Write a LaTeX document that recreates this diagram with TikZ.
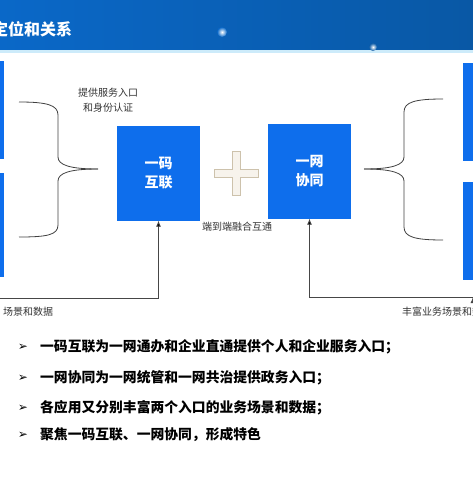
\documentclass[tikz,border=0pt]{standalone}
\usepackage{fontspec}
\setmainfont{Noto Sans CJK SC}
\newfontfamily\sym{DejaVu Sans}
\usetikzlibrary{arrows.meta,positioning,calc}
\definecolor{boxblue}{RGB}{14,110,236}
\definecolor{bandl}{RGB}{10,104,200}
\definecolor{bandr}{RGB}{9,88,165}
\definecolor{bandline}{RGB}{205,235,250}
\definecolor{plusline}{RGB}{205,194,172}
\definecolor{plusfill}{RGB}{247,243,236}
\definecolor{wire}{RGB}{70,70,70}

\begin{document}
\begin{tikzpicture}[x=1pt,y=-1pt,
  blk/.style={fill=boxblue,minimum width=83pt,minimum height=95pt,inner sep=0pt,
    text=white,font=\fontsize{14}{19}\selectfont\bfseries,align=center},
  side/.style={fill=boxblue,minimum width=60pt,minimum height=98pt,inner sep=0pt},
  lbl/.style={font=\fontsize{10}{15}\selectfont,align=center,text=black!80,inner sep=0pt},
  item/.style={anchor=west,font=\fontsize{13.8}{16}\selectfont\bfseries,inner sep=0pt},
  brace/.style={draw=black!75,line width=0.8pt}]
\useasboundingbox (0,0) rectangle (473,477);

% header band
\fill[left color=bandl,right color=bandr] (0,0) rectangle (473,50);
\fill[bandline] (0,50) rectangle (473,53);
\shade[inner color=white,outer color=bandl] (222,32) circle (5);
\shade[inner color=white,outer color=bandr] (373,47) circle (4);
\node[anchor=west,inner sep=0pt,text=white,font=\fontsize{16}{16}\selectfont\bfseries] (H) at (-8,29) {定位和关系};

% boxes
\node[side] (L1) at (-26,110) {};
\node[side,minimum height=104pt] (L2) at (-26,225) {};
\node[side] (R1) at (493,112) {};
\node[side] (R2) at (493,231) {};
\node[blk] (A) at (158.5,173) {一码\\互联};
\node[blk] (B) at (309.5,171) {一网\\协同};

% plus
\draw[plusline,fill=plusfill,line width=1pt] (232,151) -- (240,151) -- (240,169) -- (258,169)
  -- (258,177) -- (240,177) -- (240,195) -- (232,195) -- (232,177) -- (214,177)
  -- (214,169) -- (232,169) -- cycle;

% labels
\node[lbl] (C) at (108,100) {提供服务入口\\和身份认证};
\node[lbl] (D) at (237,227) {端到端融合互通};
\node[lbl,anchor=west] (E) at (3,312) {场景和数据};
\node[lbl,anchor=west] (F) at (402,312) {丰富业务场景和数据};

% braces
\coordinate (P) at (98,169);
\coordinate (Q) at (364,169);
\draw[brace] (P) .. controls +(-28,0) and +(0,8) .. ++(-40,-12) -- ++(0,-42)
  .. controls +(0,-10) and +(28,0) .. ++(-39,-13);
\draw[brace] (P) .. controls +(-28,0) and +(0,-8) .. ++(-40,12) -- ++(0,44)
  .. controls +(0,10) and +(28,0) .. ++(-39,12);
\draw[brace] (Q) .. controls +(28,0) and +(0,8) .. ++(40,-12) -- ++(0,-45)
  .. controls +(0,-10) and +(-28,0) .. ++(39,-13);
\draw[brace] (Q) .. controls +(28,0) and +(0,-8) .. ++(40,12) -- ++(0,46)
  .. controls +(0,10) and +(-28,0) .. ++(39,13);

% feedback lines
\coordinate (S) at (0,298);
\coordinate (T) at (473,297);
\path[draw=wire,line width=0.8pt,-{Latex[length=6pt,width=5pt]}]
  (S) edge[to path={-| (\tikztotarget)}] (A.south)
  (T) edge[to path={-| (\tikztotarget)}] (B.south);

% bullet list
\foreach \t/\y in {一码互联为一网通办和企业直通提供个人和企业服务入口；/347,
  一网协同为一网统管和一网共治提供政务入口；/378,
  各应用又分别丰富两个入口的业务场景和数据；/408,
  聚焦一码互联、一网协同，形成特色/435}{
  \node[font=\sym\fontsize{12}{12}\selectfont,inner sep=0pt] at (23,\y) {➢};
  \node[item] at (40,\y) {\t};
}
\end{tikzpicture}
\end{document}
